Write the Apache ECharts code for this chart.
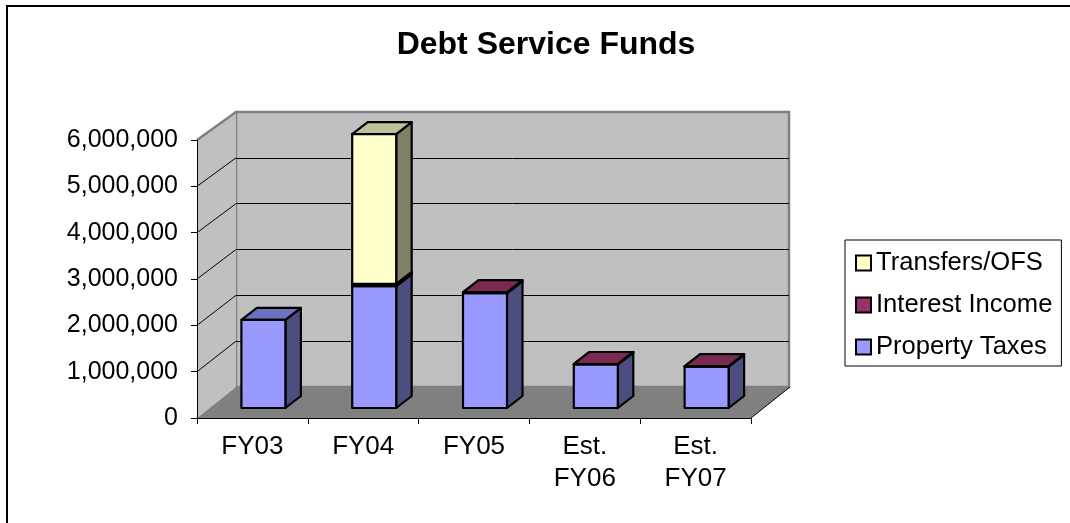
<!DOCTYPE html>
<html>
<head>
<meta charset="utf-8">
<style>html,body{margin:0;padding:0;background:#fff}#chart{width:1070px;height:523px}</style>
<script src="https://cdn.jsdelivr.net/npm/echarts@6/dist/echarts.min.js"></script>
</head>
<body>
<div id="chart"></div>
<script>
// Debt service revenue by fiscal year, stacked by source
const categories = ['FY03', 'FY04', 'FY05', 'Est.\nFY06', 'Est.\nFY07'];
const propertyTaxes = [1900000, 2630000, 2480000, 940000, 895000];
const interestIncome = [0, 50000, 20000, 10000, 10000];
const transfers = [0, 3230000, 0, 0, 0];
const wallTicks = [1000000, 2000000, 3000000, 4000000, 5000000];
const legendNames = ['Transfers/OFS', 'Interest Income', 'Property Taxes'];

const FONT = '"Liberation Sans", Arial, sans-serif';

// Box shading: front, top and side faces of each source
const shades = {
  'Property Taxes': { front: '#9999FF', top: '#7070C0', side: '#4D4D80' },
  'Interest Income': { front: '#993366', top: '#7A2952', side: '#4D1A33' },
  'Transfers/OFS': { front: '#FFFFCC', top: '#C0C09A', side: '#808066' }
};

// Oblique projection of the floor depth and of the boxes standing on it
const WALL_DX = 39, WALL_DY_BOTTOM = 31, WALL_DY_TOP = 28;
const BAR_SHIFT_X = 11, BAR_SHIFT_Y = 10, BAR_DX = 15.5, BAR_DY = 12, BAR_WIDTH = 44;

function stackRows(values, below) {
  return values.map((v, i) => [i, below[i], below[i] + v]);
}
const zeros = categories.map(() => 0);
const taxRows = stackRows(propertyTaxes, zeros);
const interestRows = stackRows(interestIncome, taxRows.map(r => r[2]));
const transferRows = stackRows(transfers, interestRows.map(r => r[2]));

function renderBox(name) {
  const shade = shades[name];
  return function (params, api) {
    if (api.value(2) <= api.value(1)) return null;
    const base = api.coord([api.value(0), api.value(1)]);
    const top = api.coord([api.value(0), api.value(2)]);
    const l = base[0] + BAR_SHIFT_X - BAR_WIDTH / 2, r = l + BAR_WIDTH;
    const yb = base[1] - BAR_SHIFT_Y, yt = top[1] - BAR_SHIFT_Y;
    const edge = { stroke: '#000', lineWidth: 2.2, lineJoin: 'round' };
    const face = (pts, fill) => ({
      type: 'polygon', shape: { points: pts },
      style: Object.assign({ fill: fill }, edge)
    });
    return {
      type: 'group',
      children: [
        face([[r, yt], [r + BAR_DX, yt - BAR_DY], [r + BAR_DX, yb - BAR_DY], [r, yb]], shade.side),
        face([[l, yt], [l + BAR_DX, yt - BAR_DY], [r + BAR_DX, yt - BAR_DY], [r, yt]], shade.top),
        face([[l, yt], [r, yt], [r, yb], [l, yb]], shade.front)
      ]
    };
  };
}

// Left wall and floor, derived from the front plotting rectangle
function renderRoom(params) {
  const c = params.coordSys;
  const x0 = c.x, x1 = c.x + c.width, yT = c.y, yB = c.y + c.height;
  return {
    type: 'group',
    children: [
      { type: 'polygon',
        shape: { points: [[x0, yT], [x0 + WALL_DX, yT - WALL_DY_TOP], [x0 + WALL_DX, yB - WALL_DY_BOTTOM], [x0, yB]] },
        style: { fill: '#C0C0C0' } },
      { type: 'polygon',
        shape: { points: [[x0, yB], [x0 + WALL_DX, yB - WALL_DY_BOTTOM], [x1 + WALL_DX, yB - WALL_DY_BOTTOM], [x1, yB]] },
        style: { fill: '#808080' } },
      { type: 'line',
        shape: { x1: x0, y1: yT, x2: x0 + WALL_DX, y2: yT - WALL_DY_TOP },
        style: { stroke: '#808080', lineWidth: 2.5 } },
      { type: 'line',
        shape: { x1: x1, y1: yB, x2: x1 + WALL_DX, y2: yB - WALL_DY_BOTTOM },
        style: { stroke: '#000', lineWidth: 1 } }
    ]
  };
}

// Gridlines running across the left wall
function renderWallLine(params, api) {
  const p = api.coord([0, api.value(0)]);
  const x = params.coordSys.x;
  const share = api.value(0) / 6000000;
  const rise = WALL_DY_BOTTOM + (WALL_DY_TOP - WALL_DY_BOTTOM) * share;
  return {
    type: 'line',
    shape: { x1: x, y1: p[1], x2: x + WALL_DX, y2: p[1] - rise },
    style: { stroke: '#000', lineWidth: 1 }
  };
}

const chart = echarts.init(document.getElementById('chart'), null, { renderer: 'canvas' });
chart.setOption({
  animation: false,
  backgroundColor: '#fff',
  textStyle: { fontFamily: FONT },
  title: {
    text: 'Debt Service Funds',
    left: 541, top: 24, textAlign: 'center',
    textStyle: { fontFamily: FONT, fontSize: 32, fontWeight: 'bold', color: '#000' }
  },
  legend: {
    orient: 'vertical',
    left: 845, top: 240,
    padding: [10, 9, 6, 10],
    backgroundColor: '#fff',
    borderColor: '#000',
    borderWidth: 1,
    itemWidth: 15, itemHeight: 15, itemGap: 16,
    selectedMode: false,
    textStyle: { fontFamily: FONT, fontSize: 25.6, color: '#000', lineHeight: 15 },
    data: legendNames.map(n => ({
      name: n, icon: 'rect',
      itemStyle: { color: shades[n].front, borderColor: '#000', borderWidth: 2 }
    }))
  },
  grid: [
    // back wall
    { left: 236, top: 112, width: 553, height: 275, show: true,
      backgroundColor: '#C0C0C0', borderColor: '#808080', borderWidth: 2.5 },
    // front plane carrying the axes and the boxes
    { left: 197, top: 140, width: 554, height: 278 }
  ],
  xAxis: [
    { gridIndex: 0, type: 'category', data: categories, show: false },
    { gridIndex: 1, type: 'category', data: categories, z: 5,
      axisLine: { lineStyle: { color: '#000', width: 1 } },
      axisTick: { show: true, length: 6, lineStyle: { color: '#000' } },
      axisLabel: { fontFamily: FONT, fontSize: 26, color: '#000', margin: 13, lineHeight: 32, interval: 0 } }
  ],
  yAxis: [
    { gridIndex: 0, type: 'value', min: 0, max: 6000000, interval: 1000000,
      axisLine: { show: false }, axisTick: { show: false }, axisLabel: { show: false },
      splitLine: { show: true, showMinLine: false, showMaxLine: false, lineStyle: { color: '#000', width: 1 } } },
    { gridIndex: 1, type: 'value', min: 0, max: 6000000, interval: 1000000, z: 5,
      axisLine: { show: true, lineStyle: { color: '#000', width: 1 } },
      axisTick: { show: true, length: 6, lineStyle: { color: '#000' } },
      splitLine: { show: false },
      axisLabel: { fontFamily: FONT, fontSize: 25, color: '#000', margin: 19,
        formatter: v => v.toLocaleString('en-US') } }
  ],
  series: [
    { type: 'custom', name: 'room', xAxisIndex: 1, yAxisIndex: 1, silent: true, z: 2,
      data: [[0, 0]], renderItem: renderRoom },
    { type: 'custom', name: 'wall lines', xAxisIndex: 1, yAxisIndex: 1, silent: true, z: 3,
      encode: { y: 0 }, data: wallTicks.map(v => [v]), renderItem: renderWallLine },
    { type: 'custom', name: 'Property Taxes', xAxisIndex: 1, yAxisIndex: 1, z: 6,
      itemStyle: { color: shades['Property Taxes'].front },
      encode: { x: 0, y: [1, 2] }, data: taxRows, renderItem: renderBox('Property Taxes') },
    { type: 'custom', name: 'Interest Income', xAxisIndex: 1, yAxisIndex: 1, z: 7,
      itemStyle: { color: shades['Interest Income'].front },
      encode: { x: 0, y: [1, 2] }, data: interestRows, renderItem: renderBox('Interest Income') },
    { type: 'custom', name: 'Transfers/OFS', xAxisIndex: 1, yAxisIndex: 1, z: 8,
      itemStyle: { color: shades['Transfers/OFS'].front },
      encode: { x: 0, y: [1, 2] }, data: transferRows, renderItem: renderBox('Transfers/OFS') }
  ],
  graphic: [
    // outer frame: top and left rules
    { type: 'polyline', silent: true,
      shape: { points: [[7, 523], [7, 6], [1070, 6]] },
      style: { stroke: '#000', lineWidth: 2, fill: null } }
  ]
});
</script>
</body>
</html>
